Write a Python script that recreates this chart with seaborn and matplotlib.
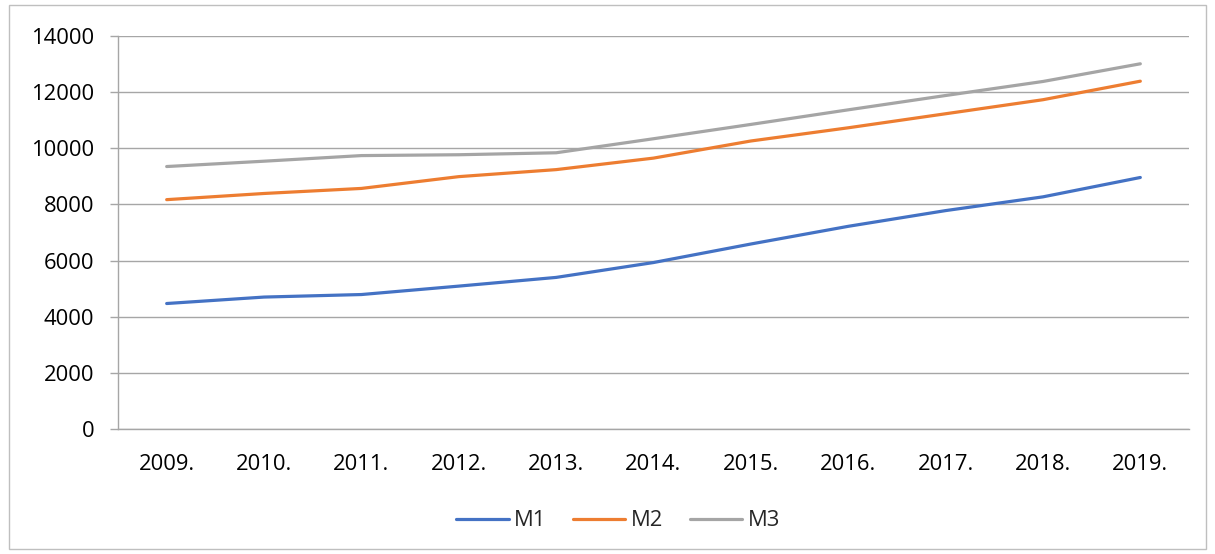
import matplotlib

matplotlib.use("Agg")
import matplotlib.pyplot as plt
import numpy as np
import pandas as pd
import seaborn as sns
from matplotlib.patches import Rectangle
from matplotlib.ticker import FixedLocator, MultipleLocator

sns.set_theme(style="white")
plt.rcParams["font.family"] = ["Open Sans", "DejaVu Sans"]

# values
years = ["2009.", "2010.", "2011.", "2012.", "2013.", "2014.",
         "2015.", "2016.", "2017.", "2018.", "2019."]
m1 = [4470, 4700, 4790, 5090, 5400, 5930, 6590, 7220, 7780, 8270, 8960]
m2 = [8170, 8390, 8570, 8990, 9240, 9650, 10260, 10730, 11230, 11730, 12390]
m3 = [9350, 9540, 9740, 9770, 9840, 10340, 10850, 11370, 11880, 12380, 13010]
series_names = ["M1", "M2", "M3"]
colors = ["#4472C4", "#ED7D31", "#A5A5A5"]

df = pd.DataFrame({"year": years, "M1": m1, "M2": m2, "M3": m3})
df_long = df.melt(id_vars="year", value_vars=series_names,
                  var_name="series", value_name="value")

fig = plt.figure(figsize=(12.15, 5.54), dpi=100)
ax = fig.add_axes([118 / 1215, 1 - 429 / 554, (1189 - 118) / 1215, (429 - 36) / 554])

sns.lineplot(
    data=df_long,
    x="year",
    y="value",
    hue="series",
    hue_order=series_names,
    palette=colors,
    linewidth=2.3,
    sort=False,
    ax=ax,
)

grid_col = "#A6A6A6"
label_size = 15.8
ax.set_xlim(-0.5, len(years) - 0.5)
ax.set_ylim(0, 14000)
ax.yaxis.set_major_locator(MultipleLocator(2000))
ax.yaxis.grid(True, color=grid_col, linewidth=1.0)
ax.set_axisbelow(True)
ax.set_xlabel("")
ax.set_ylabel("")

for side in ["top", "right"]:
    ax.spines[side].set_visible(False)
for side in ["left", "bottom"]:
    ax.spines[side].set_color(grid_col)
    ax.spines[side].set_linewidth(1.0)

# category labels without ticks, separator ticks between categories
ax.xaxis.set_minor_locator(FixedLocator(np.arange(-0.5, len(years), 1.0)))
ax.tick_params(axis="x", which="major", length=0, pad=18, labelsize=label_size, labelcolor="#000000")
ax.tick_params(axis="x", which="minor", length=6, width=1.0, color=grid_col, direction="out")
ax.tick_params(axis="y", which="major", length=6, width=1.0, color=grid_col,
               pad=11, labelsize=label_size, labelcolor="#000000", left=True)

ax.legend(
    handles=ax.get_legend_handles_labels()[0],
    labels=series_names,
    loc="center",
    bbox_to_anchor=(618 / 1215, (554 - 521) / 554),
    bbox_transform=fig.transFigure,
    ncol=3,
    frameon=False,
    fontsize=label_size,
    handlelength=2.4,
    columnspacing=1.2,
    handletextpad=0.25,
)

# thin outer border like the spreadsheet chart area
fig.patches.append(
    Rectangle((9 / 1215, 5 / 554), (1206 - 9) / 1215, (549 - 5) / 554,
              transform=fig.transFigure, fill=False, edgecolor="#BFBFBF", linewidth=1.0)
)

fig.savefig("out.png", dpi=100)
plt.close(fig)
